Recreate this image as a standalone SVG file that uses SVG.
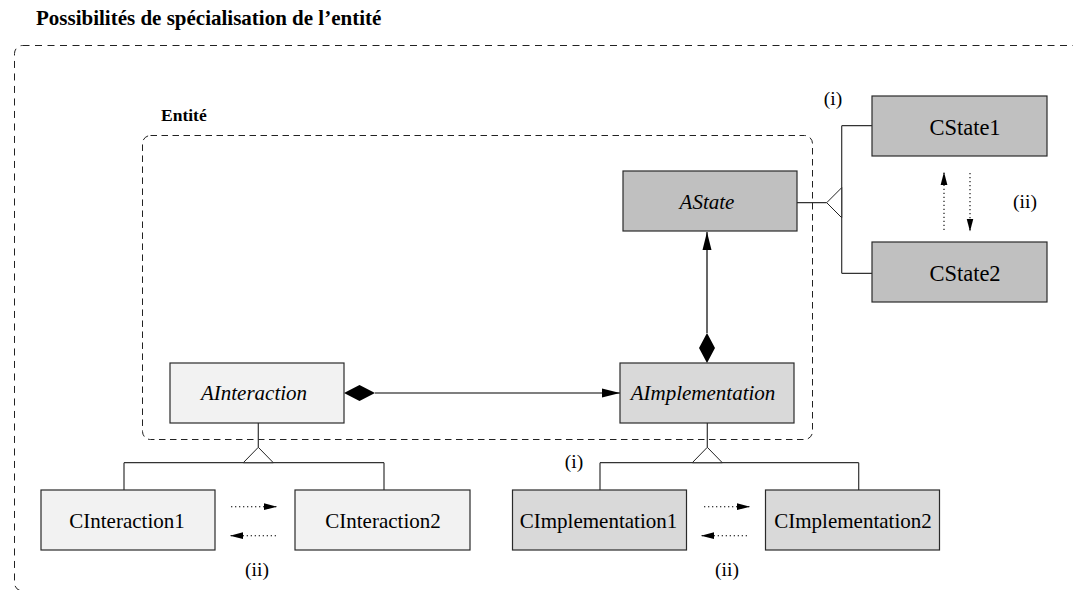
<svg xmlns="http://www.w3.org/2000/svg" width="1073" height="590" viewBox="0 0 1073 590">
  <style>
    text { font-family: "Liberation Serif", "Times New Roman", serif; fill: #000; }
    .title { font-weight: bold; font-size: 21px; }
    .sub { font-weight: bold; font-size: 17.5px; font-family: "Liberation Serif", "Times New Roman", serif; }
    .lbl { font-size: 21px; text-anchor: middle; }
    .big { font-size: 22.5px; }
    .abs { font-style: italic; }
    .note { font-size: 19.5px; text-anchor: middle; }
    .box { stroke: #2a2a2a; stroke-width: 1.2; }
    .state { fill: #c0c0c0; }
    .impl { fill: #d9d9d9; }
    .inter { fill: #f2f2f2; }
    .frame { fill: none; stroke: #222; stroke-width: 1; }
    .gen { fill: none; stroke: #333; stroke-width: 1.2; }
    .tri { fill: #fff; stroke: #222; stroke-width: 1; }
    .assoc { fill: none; stroke: #000; stroke-width: 1.2; }
    .dot { fill: none; stroke: #000; stroke-width: 1.1; stroke-dasharray: 1.3 2.7; }
    .diamond { fill: #000; }
  </style>
  <defs>
    <marker id="solidHead" viewBox="0 0 18 10" refX="18" refY="5" markerWidth="18" markerHeight="10" markerUnits="userSpaceOnUse" orient="auto">
      <path d="M0,0.5 L18,5 L0,9.5 Z" fill="#000"/>
    </marker>
    <marker id="dotHead" viewBox="0 0 13 8" refX="13" refY="4" markerWidth="13" markerHeight="8" markerUnits="userSpaceOnUse" orient="auto">
      <path d="M0,0.6 L13,4 L0,7.4 Z" fill="#000"/>
    </marker>
  </defs>

  <!-- headings -->
  <text class="title" x="36" y="25">Possibilités de spécialisation de l’entité</text>
  <text class="sub" x="161" y="121">Entité</text>

  <!-- frames -->
  <rect id="frame-outer" class="frame" x="14.5" y="45.5" width="1100" height="545.5" rx="8" stroke-dasharray="7 5.5"/>
  <rect id="frame-entity" class="frame" x="142.5" y="135.5" width="670" height="304" rx="8" stroke-dasharray="6.5 4.5"/>

  <!-- connectors -->
  <g id="connectors">
    <!-- AState specialisations -->
    <path class="gen" d="M797,202.7 H826.7 M841.7,125.7 V273.3 M841.7,125.7 H872 M841.7,273.3 H872"/>
    <path class="tri" d="M826.7,202.7 L841.7,187.7 L841.7,217.7 Z"/>

    <!-- AInteraction specialisations -->
    <path class="gen" d="M258.3,423 V447.3 M124,462.7 H384 M124,462.7 V490 M384,462.7 V490"/>
    <path class="tri" d="M258.3,447.3 L243.3,462.7 L273.3,462.7 Z"/>

    <!-- AImplementation specialisations -->
    <path class="gen" d="M707.3,423 V447.3 M600,462.7 H858.7 M600,462.7 V490 M858.7,462.7 V490"/>
    <path class="tri" d="M707.3,447.3 L692.3,462.7 L722.3,462.7 Z"/>

    <!-- compositions -->
    <path class="assoc" d="M707,333 V232" marker-end="url(#solidHead)"/>
    <path class="diamond" d="M707,333 L715,348 L707,363 L699,348 Z"/>
    <path class="assoc" d="M375,393 H620" marker-end="url(#solidHead)"/>
    <path class="diamond" d="M344,393 L359.5,385 L375,393 L359.5,401 Z"/>

    <!-- substitution arrows -->
    <path class="dot" d="M944,230 V172" marker-end="url(#dotHead)"/>
    <path class="dot" d="M970,173 V231.5" marker-end="url(#dotHead)"/>
    <path class="dot" d="M231,506.7 H277" marker-end="url(#dotHead)"/>
    <path class="dot" d="M276,535.7 H230" marker-end="url(#dotHead)"/>
    <path class="dot" d="M704,506.7 H750" marker-end="url(#dotHead)"/>
    <path class="dot" d="M747,535.7 H701" marker-end="url(#dotHead)"/>
  </g>

  <!-- nodes -->
  <g id="AState">
    <rect class="box state" x="623" y="171" width="174" height="60"/>
    <text class="lbl abs" x="707" y="208.5">AState</text>
  </g>
  <g id="AImplementation">
    <rect class="box impl" x="620" y="363" width="174" height="60"/>
    <text class="lbl abs" x="703" y="400">AImplementation</text>
  </g>
  <g id="AInteraction">
    <rect class="box inter" x="170" y="363" width="174" height="60"/>
    <text class="lbl abs" x="254" y="400">AInteraction</text>
  </g>
  <g id="CState1">
    <rect class="box state" x="872" y="96" width="175" height="60"/>
    <text class="lbl big" x="965" y="134.5">CState1</text>
  </g>
  <g id="CState2">
    <rect class="box state" x="872" y="242" width="175" height="60"/>
    <text class="lbl big" x="965" y="280.5">CState2</text>
  </g>
  <g id="CInteraction1">
    <rect class="box inter" x="41" y="490" width="174" height="60"/>
    <text class="lbl" x="127" y="528">CInteraction1</text>
  </g>
  <g id="CInteraction2">
    <rect class="box inter" x="295" y="490" width="175" height="60"/>
    <text class="lbl" x="383" y="528">CInteraction2</text>
  </g>
  <g id="CImplementation1">
    <rect class="box impl" x="512.5" y="490" width="174" height="60"/>
    <text class="lbl" x="598.5" y="528">CImplementation1</text>
  </g>
  <g id="CImplementation2">
    <rect class="box impl" x="765.5" y="490" width="174" height="60"/>
    <text class="lbl" x="853" y="528">CImplementation2</text>
  </g>

  <!-- variant markers -->
  <text class="note" x="833" y="105">(i)</text>
  <text class="note" x="1025" y="208">(ii)</text>
  <text class="note" x="574" y="468">(i)</text>
  <text class="note" x="257" y="576">(ii)</text>
  <text class="note" x="727" y="576">(ii)</text>
</svg>
